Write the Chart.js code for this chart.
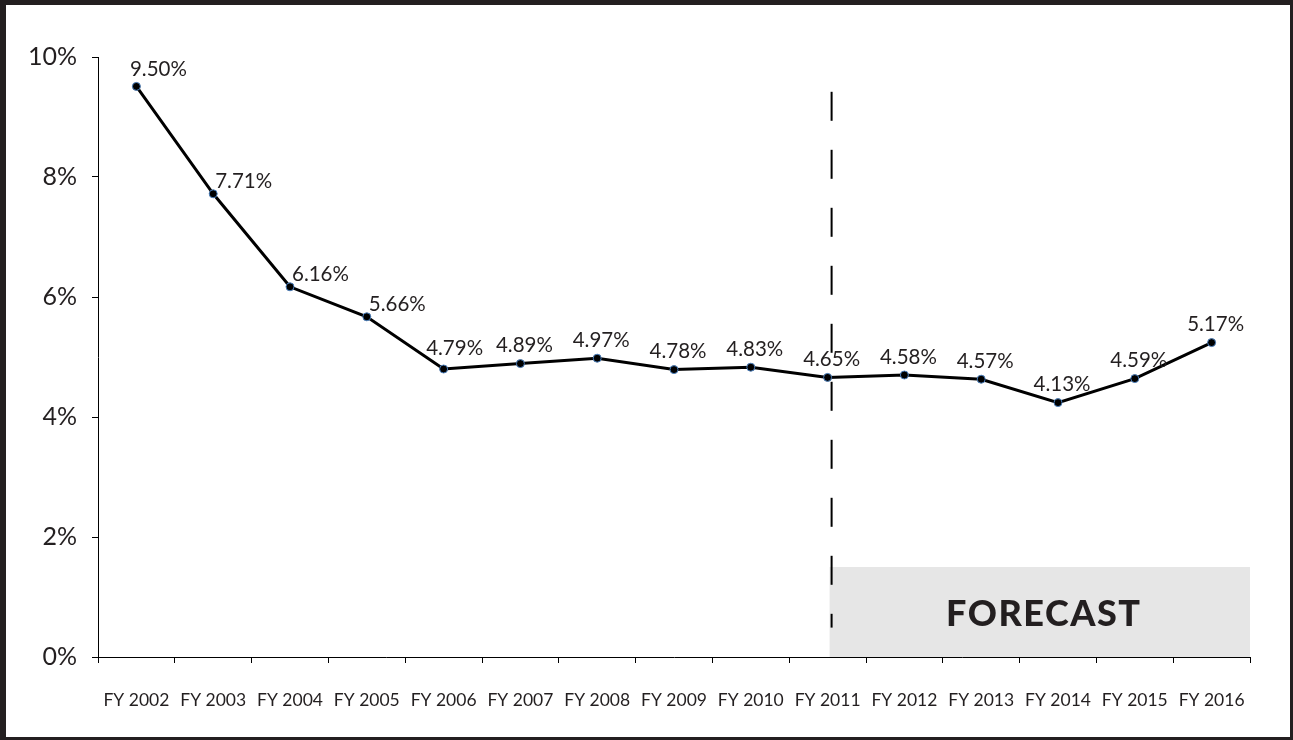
<!DOCTYPE html>
<html>
<head>
<meta charset="utf-8">
<script src="https://cdn.jsdelivr.net/npm/chart.js@4/dist/chart.umd.min.js"></script>
<style>
  html, body { margin: 0; padding: 0; background: #fff; }
  #frame {
    position: absolute; left: 0; top: 0;
    width: 1293px; height: 740px; box-sizing: border-box;
    border-style: solid; border-color: #231f20;
    border-width: 5px 3px 3px 6px;
    background: #fff;
  }
  canvas { display: block; }
</style>
</head>
<body>
<div id="frame"><canvas id="chart" width="1284" height="732"></canvas></div>
<script>
// fiscal years on the x axis
const years = ['FY 2002', 'FY 2003', 'FY 2004', 'FY 2005', 'FY 2006', 'FY 2007', 'FY 2008',
  'FY 2009', 'FY 2010', 'FY 2011', 'FY 2012', 'FY 2013', 'FY 2014', 'FY 2015', 'FY 2016'];
// plotted values (percent)
const rates = [9.51, 7.72, 6.17, 5.67, 4.80, 4.89, 4.98, 4.79, 4.83, 4.66, 4.70, 4.63, 4.24, 4.64, 5.24];
// the labels as printed next to each point
const rateLabels = ['9.50%', '7.71%', '6.16%', '5.66%', '4.79%', '4.89%', '4.97%', '4.78%', '4.83%',
  '4.65%', '4.58%', '4.57%', '4.13%', '4.59%', '5.17%'];
const yTicks = [0, 2, 4, 6, 8, 10];
const forecastStart = 'FY 2011';
const forecastTop = 1.5;   // height of the grey band, in %
const TEXT = '#231f20';

// draws the value labels, the forecast band and the dashed divider
const decorations = {
  id: 'decorations',
  beforeDatasetsDraw(chart) {
    const { ctx, scales: { x, y }, chartArea } = chart;
    const idx = years.indexOf(forecastStart);
    const left = x.getPixelForValue(idx) + 2;
    const top = y.getPixelForValue(forecastTop);
    ctx.save();
    ctx.fillStyle = '#e6e6e6';
    ctx.fillRect(left, top, chartArea.right - left, chartArea.bottom - top);
    ctx.fillStyle = TEXT;
    ctx.font = '900 36px Lato';
    ctx.letterSpacing = '1.5px';
    ctx.textAlign = 'center';
    ctx.textBaseline = 'middle';
    ctx.fillText('FORECAST', (left + chartArea.right) / 2 + 4, (top + chartArea.bottom) / 2 + 2);
    ctx.letterSpacing = '0px';

    // dashed divider
    const lx = x.getPixelForValue(idx) + 4;
    ctx.strokeStyle = '#000';
    ctx.lineWidth = 2;
    ctx.setLineDash([29, 29]);
    ctx.beginPath();
    ctx.moveTo(lx, y.getPixelForValue(9.42));
    ctx.lineTo(lx, y.getPixelForValue(0.49));
    ctx.stroke();
    ctx.restore();
  },
  afterDatasetsDraw(chart) {
    const { ctx } = chart;
    const pts = chart.getDatasetMeta(0).data;
    ctx.save();
    ctx.fillStyle = TEXT;
    ctx.font = '20.5px Lato';
    ctx.textBaseline = 'middle';
    pts.forEach((p, i) => {
      if (i === 0) {
        ctx.textAlign = 'center';
        ctx.fillText(rateLabels[i], p.x + 22, p.y - 17);
      } else if (i < 4) {
        // steep part of the curve: label sits to the right
        ctx.textAlign = 'left';
        ctx.fillText(rateLabels[i], p.x + 2, p.y - 12);
      } else if (i === 4) {
        ctx.textAlign = 'center';
        ctx.fillText(rateLabels[i], p.x + 11, p.y - 21);
      } else {
        ctx.textAlign = 'center';
        ctx.fillText(rateLabels[i], p.x + 4, p.y - 18);
      }
    });
    ctx.restore();
  }
};

new Chart(document.getElementById('chart'), {
  type: 'line',
  data: {
    labels: years,
    datasets: [{
      data: rates,
      borderColor: '#000',
      borderWidth: 3,
      pointRadius: 4,
      pointBackgroundColor: '#000',
      pointBorderColor: '#4a7ebb',
      pointBorderWidth: 1,
      tension: 0
    }]
  },
  options: {
    responsive: false,
    animation: false,
    layout: { padding: { top: 52, right: 40, left: 0, bottom: 0 } },
    plugins: { legend: { display: false }, tooltip: { enabled: false } },
    scales: {
      x: {
        offset: true,
        grid: { display: true, drawOnChartArea: false, drawTicks: true, tickLength: 6, color: '#000', offset: true },
        border: { display: true, color: '#000', width: 1 },
        ticks: { color: TEXT, font: { family: 'Lato', size: 17.5 }, padding: 27, maxRotation: 0, autoSkip: false },
        afterFit(scale) { scale.height = 80; }
      },
      y: {
        min: 0,
        max: 10,
        afterBuildTicks(scale) { scale.ticks = yTicks.map(v => ({ value: v })); },
        grid: { drawOnChartArea: false, drawTicks: true, tickLength: 6, color: '#000' },
        border: { display: true, color: '#000', width: 1 },
        ticks: { color: TEXT, font: { family: 'Lato', size: 25 }, padding: 15, callback: v => v + '%' },
        afterFit(scale) { scale.width = 92; }
      }
    }
  },
  plugins: [decorations]
});
</script>
</body>
</html>
